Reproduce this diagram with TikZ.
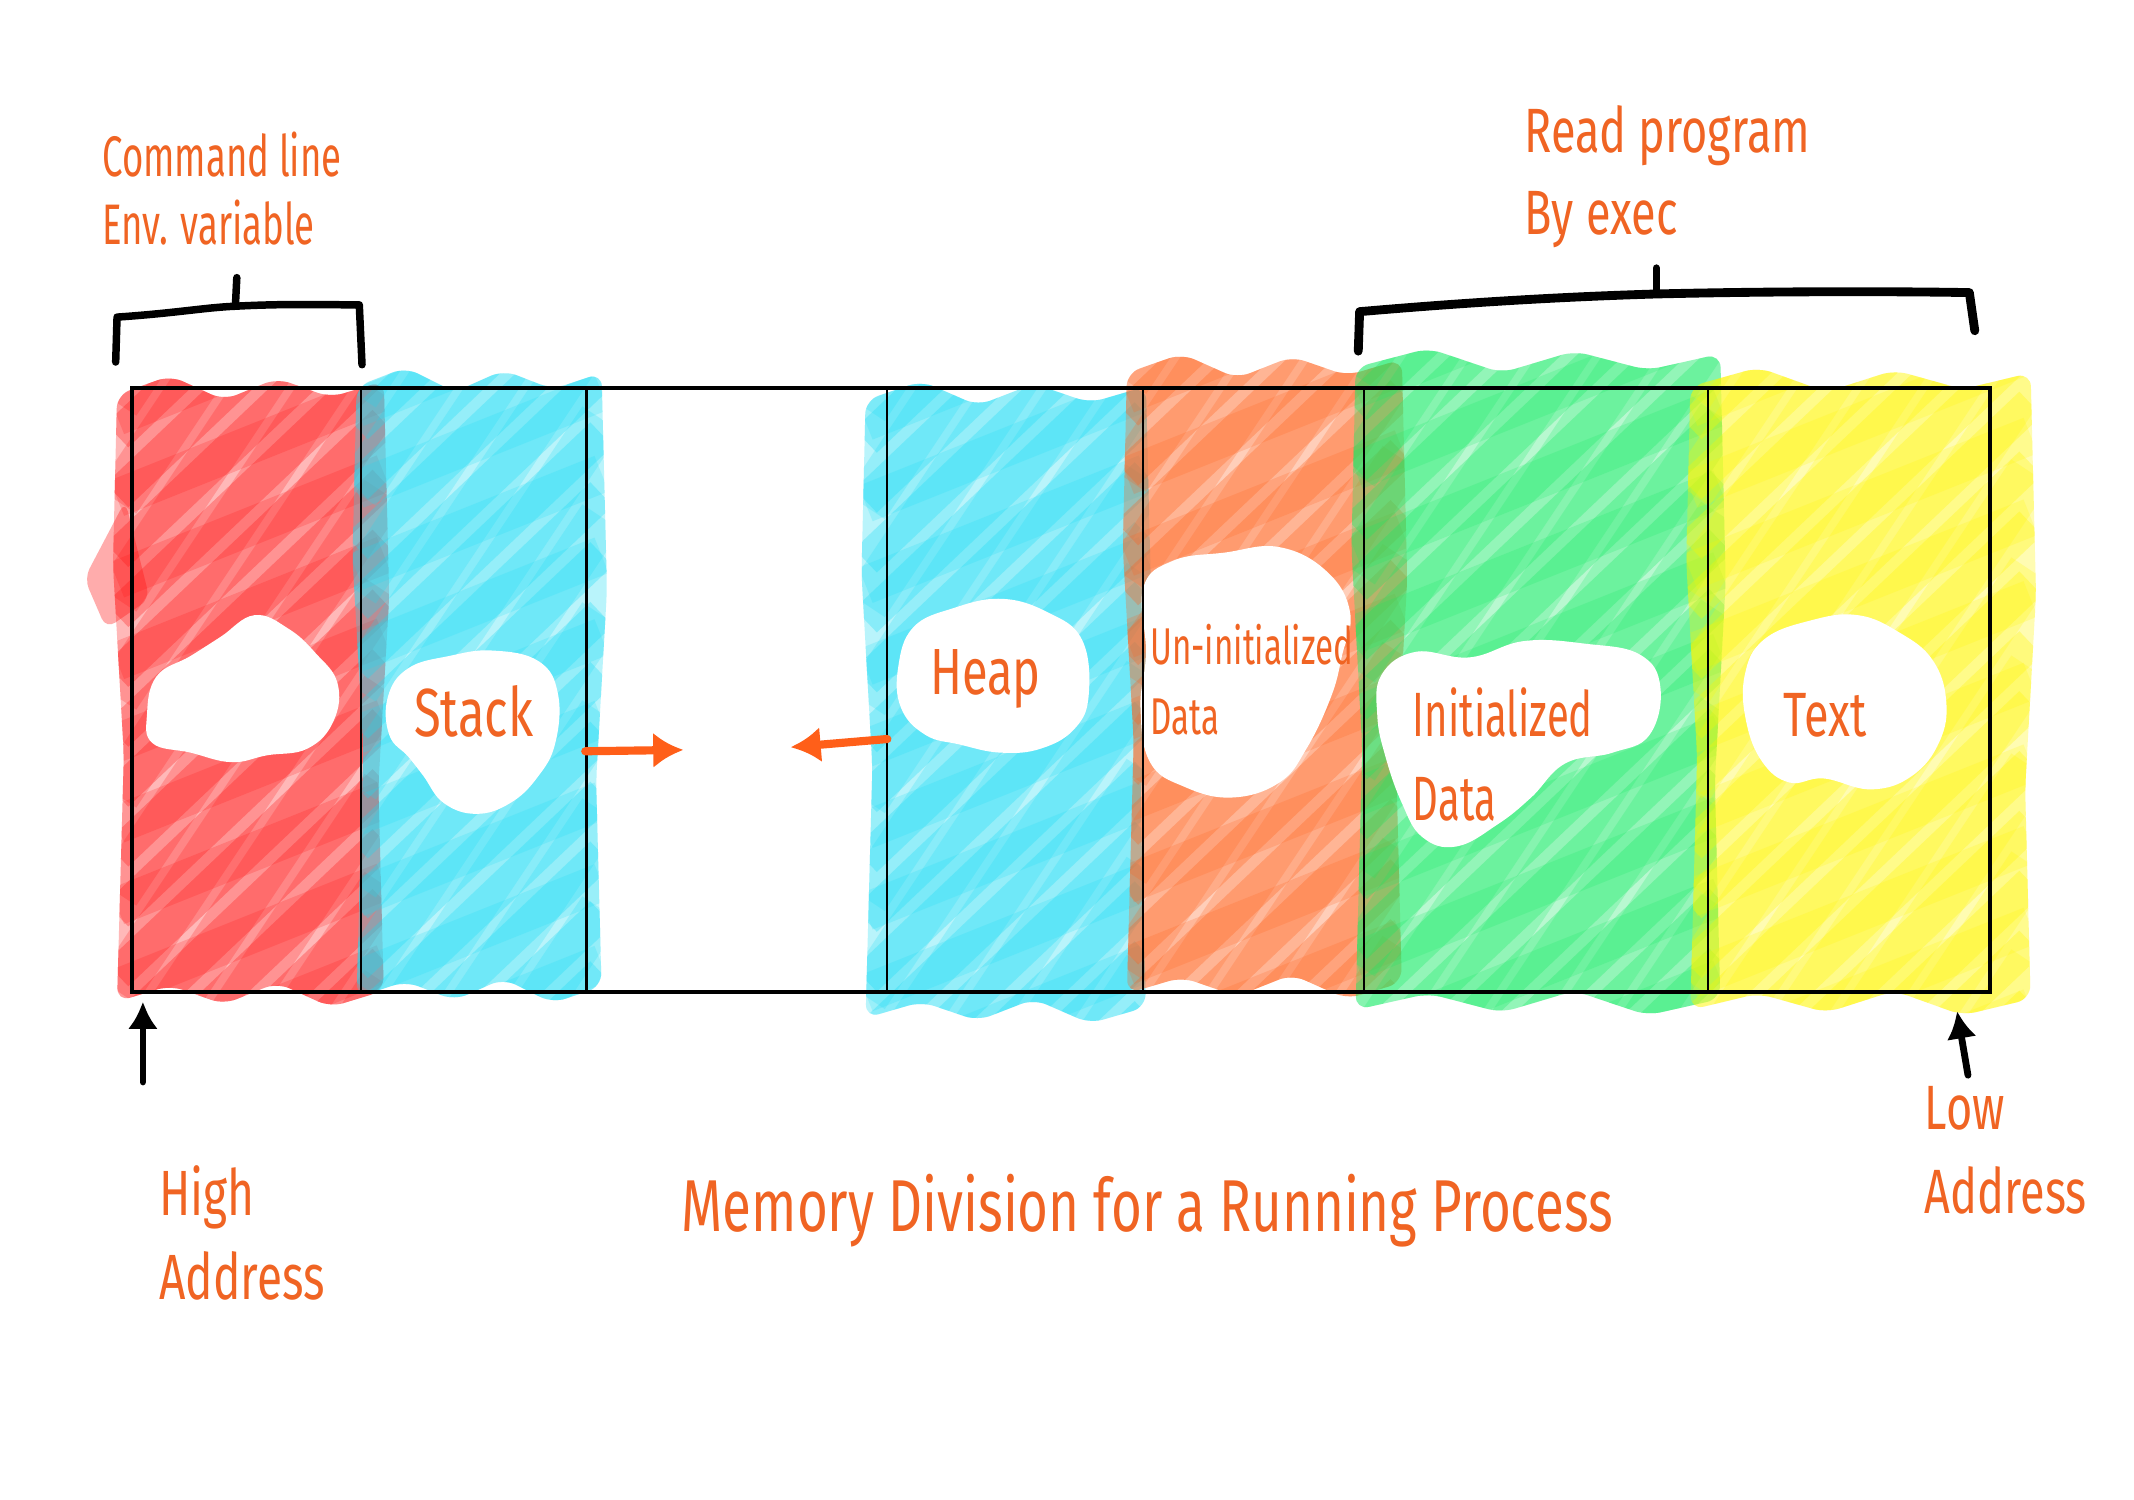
\documentclass[tikz,border=0pt]{standalone}
\usepackage{fontspec}
\newfontfamily\hand[FakeStretch=0.72]{Fira Sans}
\newfontfamily\handn[FakeStretch=0.64]{Fira Sans}
\usetikzlibrary{arrows.meta}
\definecolor{txt}{RGB}{240,100,35}
\definecolor{cRed}{RGB}{255,20,20}
\definecolor{cCyan}{RGB}{25,220,245}
\definecolor{cOrange}{RGB}{255,95,25}
\definecolor{cGreen}{RGB}{20,235,100}
\definecolor{cYellow}{RGB}{255,248,0}
\newcommand{\hf}[1]{\hand\fontsize{#1}{#1}\selectfont}
\newcommand{\hn}[1]{\handn\fontsize{#1}{#1}\selectfont}
% colour, left, top, right, bottom
\newcommand{\scribble}[5]{%
  \begin{scope}
    \clip[rounded corners=10] (#2,#3+14) -- ({#2+0.2*(#4-#2)},#3) -- ({#2+0.4*(#4-#2)},#3+18)
      -- ({#2+0.6*(#4-#2)},#3+2) -- ({#2+0.8*(#4-#2)},#3+16) -- (#4,#3+4)
      -- (#4+4,{#3+0.35*(#5-#3)}) -- (#4-4,{#3+0.65*(#5-#3)}) -- (#4,#5-12)
      -- ({#2+0.8*(#4-#2)},#5) -- ({#2+0.6*(#4-#2)},#5-18) -- ({#2+0.4*(#4-#2)},#5-2)
      -- ({#2+0.2*(#4-#2)},#5-16) -- (#2,#5-4) -- (#2+5,{#3+0.6*(#5-#3)}) -- (#2-3,{#3+0.3*(#5-#3)}) -- cycle;
    \fill[#1, opacity=0.3] (#2-5,#3) rectangle (#4+5,#5);
    \foreach \k in {0,...,17}{
      \draw[#1, opacity=0.3, line width=24]
        ({#2},{#3+\k*44}) -- ({#4},{#3+\k*44-(#4-#2)*0.95});
    }
    \foreach \k in {0,...,11}{
      \draw[#1, opacity=0.22, line width=34]
        ({#2},{#3+20+\k*72}) -- ({#4},{#3+20+\k*72-(#4-#2)*1.5});
    }
    \foreach \k in {0,...,9}{
      \draw[#1, opacity=0.2, line width=28]
        ({#2},{#3+30+\k*60}) -- ({#4},{#3+30+\k*60-(#4-#2)*0.4});
    }
  \end{scope}
}
\tikzset{
  lbl/.style={text=txt, inner sep=0pt, anchor=base west},
  frame/.style={draw=black, line width=3.2},
  divider/.style={draw=black, line width=1.6},
  bracket/.style={draw=black, line width=5.5, line cap=round, line join=round},
  blackarrow/.style={draw=black, line width=5, line cap=round, -{Latex[length=20,width=22]}},
  orangearrow/.style={draw=cOrange, line width=6, line cap=round, -{Latex[length=22,width=26]}},
  cloud/.style={fill=white}
}
\begin{document}
\begin{tikzpicture}[x=1pt,y=-1pt]
\useasboundingbox (0,0) rectangle (1568,1102);
\fill[white] (0,0) rectangle (1568,1102);

% coloured scribbles
\fill[cRed, opacity=0.35, rounded corners=8] (62,425) -- (92,368) -- (110,440) -- (78,462) -- cycle;
\scribble{cRed}{86}{276}{282}{740}
\scribble{cCyan}{262}{270}{442}{737}
\scribble{cCyan}{636}{280}{842}{752}
\scribble{cOrange}{828}{260}{1030}{734}
\scribble{cGreen}{996}{256}{1264}{746}
\scribble{cYellow}{1242}{270}{1492}{746}

% white clouds
\fill[cloud] plot[smooth cycle, tension=0.7] coordinates {(108,525) (115,497) (140,482) (162,468) (187,452) (212,462) (232,480) (248,502) (245,530) (226,550) (196,555) (170,560) (140,553) (112,546)};
\fill[cloud] plot[smooth cycle, tension=0.7] coordinates {(285,512) (300,491) (330,482) (362,478) (396,486) (410,510) (408,546) (395,571) (375,590) (350,598) (326,590) (311,570) (300,556) (286,540)};
\fill[cloud] plot[smooth cycle, tension=0.7] coordinates {(660,490) (671,461) (700,447) (736,440) (770,450) (795,470) (800,510) (790,535) (765,550) (735,553) (705,547) (680,540) (662,520)};
\fill[cloud] plot[smooth cycle, tension=0.7] coordinates {(840,432) (862,412) (900,406) (940,402) (975,420) (992,450) (986,482) (978,512) (960,550) (940,575) (905,586) (870,578) (845,560) (838,520) (842,480)};
\fill[cloud] plot[smooth cycle, tension=0.7] coordinates {(1015,496) (1040,479) (1080,483) (1120,471) (1165,473) (1205,481) (1220,505) (1212,540) (1185,553) (1150,561) (1125,586) (1100,606) (1070,622) (1045,615) (1030,590) (1018,556) (1012,526)};
\fill[cloud] plot[smooth cycle, tension=0.7] coordinates {(1282,496) (1296,470) (1330,456) (1365,452) (1396,465) (1420,485) (1430,515) (1425,545) (1405,570) (1375,580) (1340,572) (1315,575) (1295,560) (1283,530)};

% memory frame
\coordinate (tl) at (97,285);
\coordinate (br) at (1462,729);
\draw[frame] (tl) rectangle (br);
\foreach \x in {265,431,652,840,1002,1255}{
  \draw[divider] (\x,285) -- (\x,729);
}

% segment labels
\node[lbl, font=\hf{50}, anchor=base] (stack) at (348,541) {Stack};
\node[lbl, font=\hf{48}, anchor=base] (heap) at (724,510) {Heap};
\node[lbl, font=\hn{38}] (uninit) at (845,488) {Un-initialized};
\node[lbl, font=\hn{38}] (uninitd) at (845,540) {Data};
\node[lbl, font=\hn{46}] (init) at (1038,541) {Initialized};
\node[lbl, font=\hn{46}] (initd) at (1038,603) {Data};
\node[lbl, font=\hf{46}, anchor=base] (text) at (1341,541) {Text};

% top labels
\node[lbl, font=\hn{42}] (cmd) at (75,130) {Command line};
\node[lbl, font=\hn{42}] (env) at (75,180) {Env. variable};
\node[lbl, font=\hf{46}] (read) at (1120,112) {Read program};
\node[lbl, font=\hf{46}] (byexec) at (1120,172) {By exec};

% bottom labels
\node[lbl, font=\hf{47}] (high) at (117,893) {High};
\node[lbl, font=\hf{47}] (highaddr) at (117,955) {Address};
\node[lbl, font=\hf{46}] (low) at (1414,830) {Low};
\node[lbl, font=\hf{46}] (lowaddr) at (1414,892) {Address};
\node[lbl, font=\hf{54}, anchor=base] (title) at (843,905) {Memory Division for a Running Process};

% brackets
\draw[bracket] (85,266) -- (86,233) .. controls (130,230) and (150,226) .. (173,225) .. controls (210,223) and (240,224) .. (264,224) -- (266,268);
\draw[bracket] (173,224) -- (174,204);
\draw[bracket, line width=6.5] (998,258) -- (999,229) .. controls (1080,222) and (1150,218) .. (1217,216) .. controls (1300,214) and (1390,214) .. (1447,215) -- (1451,243);
\draw[bracket] (1217,215) -- (1217,197);

% address arrows
\coordinate (hightail) at (105,795);
\coordinate (hightip) at (105,736);
\draw[blackarrow] (hightail) -- (hightip);
\coordinate (lowtail) at (1446,790);
\coordinate (lowtip) at (1438,743);
\draw[blackarrow] (lowtail) -- (lowtip);

% growth arrows
\coordinate (stackgrow) at (430,552);
\coordinate (stacktip) at (502,551);
\draw[orangearrow] (stackgrow) -- (stacktip);
\coordinate (heapgrow) at (652,543);
\coordinate (heaptip) at (581,549);
\draw[orangearrow] (heapgrow) -- (heaptip);
\end{tikzpicture}
\end{document}
